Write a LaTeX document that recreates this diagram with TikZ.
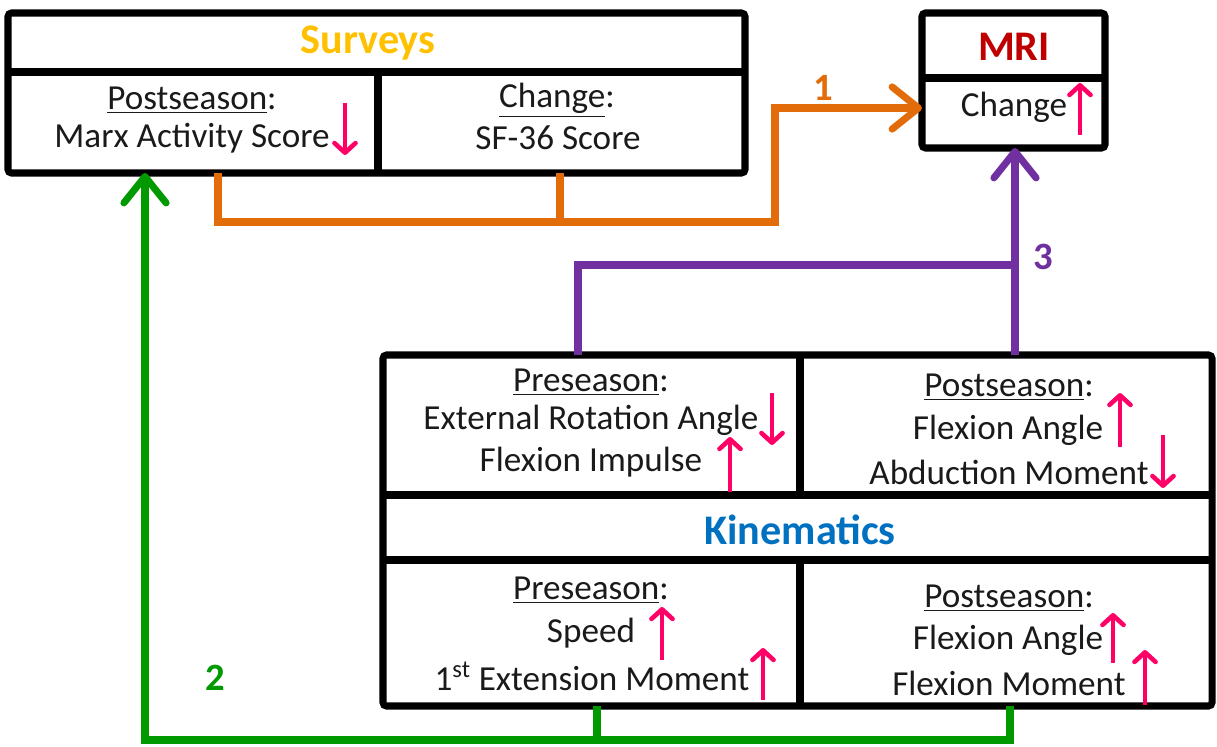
\documentclass[tikz,border=0pt]{standalone}
\usepackage{fontspec}
\setmainfont{Carlito}
\usetikzlibrary{arrows.meta,fit,calc}

\definecolor{orangeC}{HTML}{E36C0A}
\definecolor{purpleC}{HTML}{7030A0}
\definecolor{greenC}{HTML}{009A00}
\definecolor{goldC}{HTML}{FFC000}
\definecolor{redC}{HTML}{C00000}
\definecolor{blueC}{HTML}{0070C0}
\definecolor{pinkC}{HTML}{FF0066}
\definecolor{inkC}{HTML}{1A1A1A}

\tikzset{
  panel/.style={draw=black, line width=4pt, rounded corners=2pt, inner sep=0pt, outer sep=0pt},
  divider/.style={draw=black, line width=4pt},
  body/.style={font=\fontsize{20}{24}\selectfont, text=inkC, inner sep=0pt},
  headline/.style={font=\fontsize{24}{28}\selectfont\bfseries, inner sep=0pt},
  link/.style={line width=4pt, line join=miter},
  barb/.style={-{Straight Barb[length=15pt,width=24pt,round]}},
  trend/.style={draw=pinkC, line width=2.6pt, -{Straight Barb[length=5.5pt,width=12pt,round]}},
  tag/.style={font=\fontsize{22}{26}\selectfont\bfseries, inner sep=0pt}
}

\begin{document}
\begin{tikzpicture}[x=0.02cm, y=-0.02cm]
\useasboundingbox (0,0) rectangle (1217,747);

% ---------- Surveys panel ----------
\node[panel, fit={(8,13) (745,173)}] (surveys) {};
\draw[divider] (8,72) -- (745,72);
\draw[divider] (378,72) -- (378,173);
\node[headline, text=goldC] (survT) at (368,43) {Surveys};
\node[body] (survA1) at (192,100) {\underline{Postseason}:};
\node[body] (survA2) at (192,138) {Marx Activity Score};
\node[body] (survB1) at (557,100) {\underline{Change}:};
\node[body] (survB2) at (558,138) {SF-36 Score};

% ---------- MRI panel ----------
\node[panel, fit={(922,13) (1105,148)}] (mri) {};
\draw[divider] (922,78) -- (1105,78);
\node[headline, text=redC] (mriT) at (1014,47) {MRI};
\node[body] (mriA) at (1014,107) {Change};

% ---------- Kinematics panel ----------
\node[panel, fit={(383,355) (1212,706)}] (kin) {};
\draw[divider] (383,495) -- (1212,495);
\draw[divider] (383,560) -- (1212,560);
\draw[divider] (800,355) -- (800,497);
\draw[divider] (800,560) -- (800,706);
\node[headline, text=blueC] (kinT) at (800,530) {Kinematics};

\node[body] (kinA1) at (591,382) {\underline{Preseason}:};
\node[body] (kinA2) at (591,420) {External Rotation Angle};
\node[body] (kinA3) at (591,462) {Flexion Impulse};

\node[body] (kinB1) at (1009,387) {\underline{Postseason}:};
\node[body] (kinB2) at (1008,430) {Flexion Angle};
\node[body] (kinB3) at (1009,472) {Abduction Moment};

\node[body] (kinC1) at (591,590) {\underline{Preseason}:};
\node[body] (kinC2) at (591,633) {Speed};
\node[body] (kinC3) at (592,676) {1\textsuperscript{st} Extension Moment};

\node[body] (kinD1) at (1009,598) {\underline{Postseason}:};
\node[body] (kinD2) at (1008,640) {Flexion Angle};
\node[body] (kinD3) at (1009,683) {Flexion Moment};

% ---------- trend arrows ----------
\draw[trend] (345,103) -- (345,155);
\draw[trend] (1080,135) -- (1080,83);
\draw[trend] (772,393) -- (772,445);
\draw[trend] (730,492) -- (730,437);
\draw[trend] (1120,447) -- (1120,393);
\draw[trend] (1163,435) -- (1163,488);
\draw[trend] (662,660) -- (662,607);
\draw[trend] (763,700) -- (763,648);
\draw[trend] (1113,663) -- (1113,613);
\draw[trend] (1145,705) -- (1145,650);

% ---------- junction points ----------
\coordinate (o1) at (218,222);
\coordinate (o2) at (560,222);
\coordinate (o3) at (775,222);
\coordinate (o4) at (775,108);
\coordinate (p1) at (578,265);
\coordinate (p2) at (1015,265);
\coordinate (g1) at (597,740);
\coordinate (g2) at (1010,740);
\coordinate (g3) at (145,740);

% ---------- link 1: surveys -> MRI ----------
\draw[link, orangeC, line cap=butt] (surveys.south -| o1) -- (o1) -- (o3) -- (o4)
  [barb] -- (mri.west |- o4);
\draw[link, orangeC] (surveys.south -| o2) -- (o2);
\node[tag, text=orangeC] (lab1) at (823,88) {1};

% ---------- link 3: kinematics -> MRI ----------
\draw[link, purpleC] (kin.north -| p1) -- (p1) -- (p2);
\draw[link, purpleC, barb] (kin.north -| p2) -- (mri.south -| p2);
\node[tag, text=purpleC] (lab3) at (1043,257) {3};

% ---------- link 2: kinematics -> surveys ----------
\draw[link, greenC] (kin.south -| g1) -- (g1);
\draw[link, greenC, barb] (kin.south -| g2) -- (g2) -- (g3) -- (surveys.south -| g3);
\node[tag, text=greenC] (lab2) at (215,678) {2};
\end{tikzpicture}
\end{document}
